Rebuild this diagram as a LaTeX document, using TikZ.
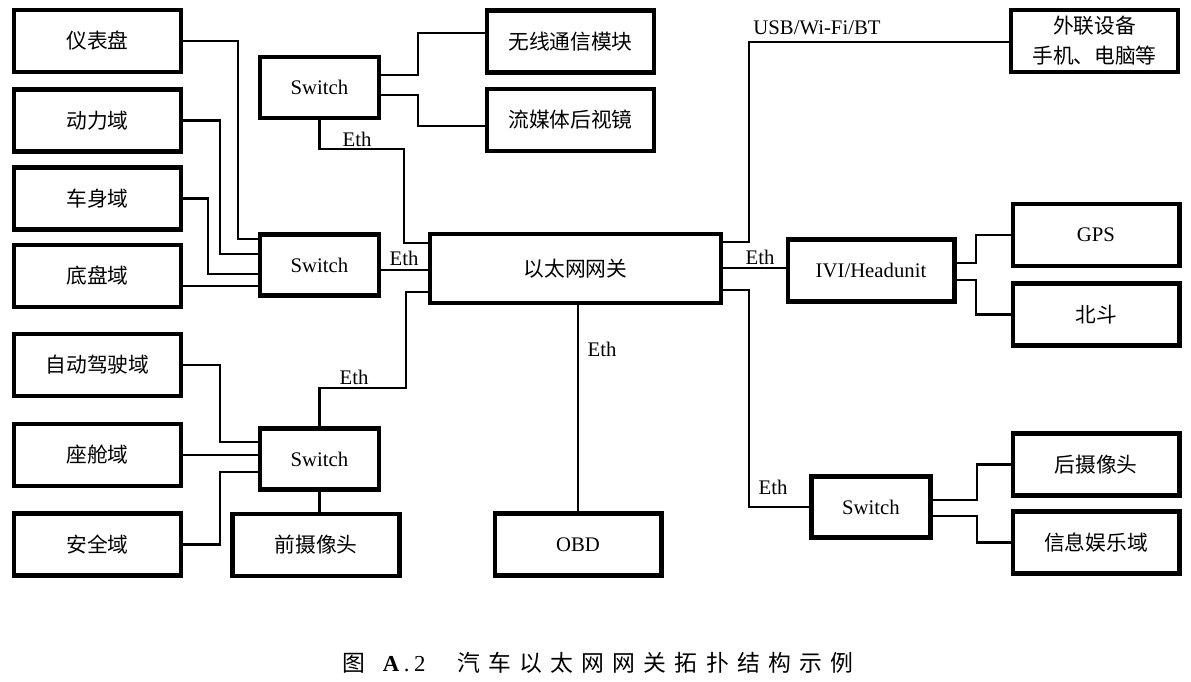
\documentclass[tikz,border=0pt]{standalone}
\usepackage{fontspec}
\setmainfont{Liberation Serif}
\newfontfamily\cjk{Noto Sans CJK SC}
\newfontfamily\capfont[LetterSpace=36]{Noto Sans CJK SC}
\begin{document}
\begin{tikzpicture}[x=0.02cm,y=-0.02cm,blk/.style={draw,line width=2.3pt,inner sep=0pt,minimum width=3.34cm,minimum height=1.24cm,font=\fontsize{11.8}{17}\selectfont\cjk},blkL/.style={blk,font=\fontsize{11.8}{14}\selectfont},sw/.style={blkL,minimum width=2.38cm,minimum height=1.22cm},link/.style={line width=1.2pt},eth/.style={inner sep=0pt,font=\fontsize{11.8}{14}\selectfont}]
\def\xl{97.5};
\def\xr{1096};
\def\xs{319.5};

\useasboundingbox (0,0) rectangle (1191,682);

% left column
\node[blk] (ybp) at (\xl,41) {仪表盘};
\node[blk] (dl) at (\xl,120.5) {动力域};
\node[blk] (cs) at (\xl,198.5) {车身域};
\node[blk] (dp) at (\xl,276) {底盘域};
\node[blk] (zd) at (\xl,365) {自动驾驶域};
\node[blk] (zc) at (\xl,455) {座舱域};
\node[blk] (aq) at (\xl,544.5) {安全域};

% switches
\node[sw] (swT) at (\xs,87.5) {Switch};
\node[sw] (swL) at (\xs,265) {Switch};
\node[sw] (swB) at (\xs,459) {Switch};
\node[sw] (swR) at (871,507) {Switch};

\node[blk] (qs) at (316,545) {前摄像头};
\node[blk] (wx) at (570.5,41.5) {无线通信模块};
\node[blk] (lm) at (570.5,120) {流媒体后视镜};
\node[blk,minimum width=5.82cm,minimum height=1.38cm] (gw) at (575.5,268.5) {以太网网关};
\node[blkL] (obd) at (578,544.5) {OBD};

% right column
\node[blk,align=center] (wl) at (1094.5,41) {外联设备\\手机、电脑等};
\node[blkL] (ivi) at (871,270.5) {IVI/Headunit};
\node[blkL] (gps) at (\xr,235) {GPS};
\node[blk] (bd) at (\xr,314.5) {北斗};
\node[blk] (hs) at (\xr,464.5) {后摄像头};
\node[blk] (xx) at (\xr,542.5) {信息娱乐域};

% links to left switch
\draw[link] (ybp.east) -| (238,239) -- (swL.west |- 0,239);
\draw[link] (dl.east) -| (220,254) -- (swL.west |- 0,254);
\draw[link] (cs.east) -| (208,274) -- (swL.west |- 0,274);
\draw[link] (dp.east |- 0,286) -- (swL.west |- 0,286);
\draw[link] (swL.east |- 0,270) -- (gw.west |- 0,270);
\node[eth] (eL) at (404,258) {Eth};

% top switch
\draw[link] (swT.east |- 0,75) -| (418,33) -- (wx.west |- 0,33);
\draw[link] (swT.east |- 0,95) -| (418,126) -- (lm.west |- 0,126);
\draw[link] (swT.south) |- (404,149) |- (gw.west |- 0,243);
\node[eth] (eT) at (357,139) {Eth};

% bottom switch
\draw[link] (zd.east) -| (220,442) -- (swB.west |- 0,442);
\draw[link] (zc.east) -- (swB.west |- zc.east);
\draw[link] (aq.east) -| (220,472) -- (swB.west |- 0,472);
\draw[link] (swB.south) -- (swB.south |- qs.north);
\draw[link] (gw.west |- 0,292) -| (406,388) -| (swB.north);
\node[eth] (eB) at (354,377) {Eth};

% OBD
\draw[link] (obd.north |- gw.south) -- (obd.north);
\node[eth] (eO) at (602,349) {Eth};

% right side
\draw[link] (gw.east |- 0,242) -| (749,42) -- (wl.west |- 0,42);
\node[eth] (eU) at (817,28) {USB/Wi-Fi/BT};
\draw[link] (gw.east |- 0,268) -- (ivi.west |- 0,268);
\node[eth] (eI) at (760,257) {Eth};
\draw[link] (ivi.east |- 0,263) -| (976,235) -- (gps.west);
\draw[link] (ivi.east |- 0,280) -| (976,314.5) -- (bd.west);
\draw[link] (gw.east |- 0,290) -| (749,507) -- (swR.west);
\node[eth] (eR) at (773,487) {Eth};
\draw[link] (swR.east |- 0,500) -| (977,464.5) -- (hs.west);
\draw[link] (swR.east |- 0,516) -| (977,542.5) -- (xx.west);

% caption
\node[inner sep=0pt,font=\fontsize{13}{16}\selectfont] (cap) at (598,663) {\capfont 图\hspace{0.75em}{\rmfamily\bfseries A}\hspace{0.2em}{\rmfamily.}\hspace{0.2em}{\rmfamily 2}\hspace{1.4em}汽车以太网网关拓扑结构示例};
\end{tikzpicture}
\end{document}
